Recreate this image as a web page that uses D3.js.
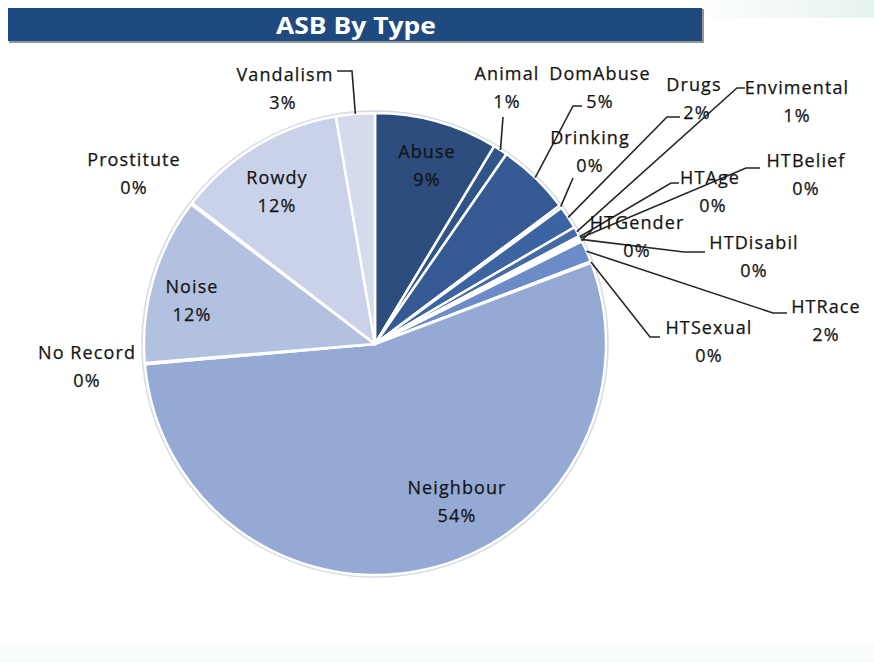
<!DOCTYPE html>
<html><head><meta charset="utf-8">
<script src="https://cdn.jsdelivr.net/npm/d3@7"></script>
<style>html,body{margin:0;padding:0;background:#fff;} svg{display:block}</style>
</head><body>
<svg id="c" width="874" height="662"></svg>
<script>
// ---- data ----
const categories = ["Abuse","Animal","DomAbuse","Drinking","Drugs","Envimental","HTAge","HTBelief","HTDisabil","HTGender","HTRace","HTSexual","Neighbour","No Record","Noise","Prostitute","Rowdy","Vandalism"];
const shares = [8.6,1.0,5.1,0.2,1.6,0.7,0.1,0.1,0.1,0.1,1.5,0.1,54.1,0.1,11.6,0.1,11.8,2.7];
const chartTitle = "ASB By Type";

// ---- label layout (positions only) ----
const labelLayout = {
  "Abuse":      {x:427, y:152},
  "Animal":     {x:507, y:74,  anchor:[503,117]},
  "DomAbuse":   {x:600, y:74,  line2x:600, anchor:[582,106], elbow:[573,106]},
  "Drinking":   {x:590, y:138, anchor:[573,178]},
  "Drugs":      {x:694, y:85,  line2x:697, anchor:[680,117], elbow:[667,117]},
  "Envimental": {x:797, y:88,  anchor:[745,88], elbow:[737,88]},
  "HTAge":      {x:710, y:178, line2x:713, anchor:[679,183], elbow:[671,183]},
  "HTBelief":   {x:806, y:161, anchor:[760,168], elbow:[746,168]},
  "HTDisabil":  {x:754, y:243, anchor:[705,252], elbow:[684,252]},
  "HTGender":   {x:637, y:223, anchor:[592,230]},
  "HTRace":     {x:826, y:307, anchor:[787,313], elbow:[773,313]},
  "HTSexual":   {x:709, y:328, anchor:[660,337], elbow:[650,337]},
  "Neighbour":  {x:457, y:488},
  "No Record":  {x:87,  y:353},
  "Noise":      {x:192, y:287},
  "Prostitute": {x:134, y:160},
  "Rowdy":      {x:277, y:178},
  "Vandalism":  {x:285, y:75, line2x:283, anchor:[337,71], elbow:[352,71]}
};

const W = 874, H = 662;
const cx = 375, cy = 344, R = 231;
const svg = d3.select("#c");
const defs = svg.append("defs");

// faint background tints
const g1 = defs.append("linearGradient").attr("id","topTint").attr("x1","0").attr("x2","1");
g1.append("stop").attr("offset","0").attr("stop-color","#ffffff");
g1.append("stop").attr("offset","1").attr("stop-color","#e6f2f0");
svg.append("rect").attr("x",690).attr("y",0).attr("width",184).attr("height",18).attr("fill","url(#topTint)");
const g2 = defs.append("linearGradient").attr("id","botTint").attr("x1","0").attr("x2","0").attr("y1","0").attr("y2","1");
g2.append("stop").attr("offset","0").attr("stop-color","#ffffff");
g2.append("stop").attr("offset","1").attr("stop-color","#f3f9f9");
svg.append("rect").attr("x",0).attr("y",640).attr("width",W).attr("height",22).attr("fill","url(#botTint)");

// title bar
svg.append("rect").attr("x",9).attr("y",9).attr("width",695).attr("height",34).attr("fill","#3b3f46").attr("opacity",0.55);
svg.append("rect").attr("x",8).attr("y",8).attr("width",694).attr("height",33).attr("fill","#1f4a80");
svg.append("text").attr("x",356).attr("y",34).attr("text-anchor","middle")
  .attr("font-family","'Open Sans', Lato, sans-serif").attr("font-weight","bold").attr("font-size",24)
  .attr("fill","#ffffff").attr("textLength",160).attr("lengthAdjust","spacingAndGlyphs").text(chartTitle);

// data
const data = categories.map((c,i)=>({name:c, value:shares[i], idx:i}));
const total = d3.sum(shares);
const color = d3.scaleLinear()
  .domain([0,2,4,10,12,14,16,17])
  .range(["#2c4d7d","#355a93","#3c64a2","#6b8cc6","#94a9d4","#b3c1e1","#c9d2e8","#d4dbec"])
  .interpolate(d3.interpolateRgb);

const pie = d3.pie().sort(null).value(d=>d.value);
const arcs = pie(data);
const arc = d3.arc().innerRadius(0).outerRadius(R);

const g = svg.append("g").attr("transform",`translate(${cx},${cy})`);
// outer rim
g.append("circle").attr("r",R+1.5).attr("fill","none").attr("stroke","#d6dbe3").attr("stroke-width",2.5);
g.selectAll("path.slice").data(arcs).enter().append("path")
  .attr("class","slice").attr("d",arc)
  .attr("fill",d=>color(d.data.idx))
  .attr("stroke","#ffffff").attr("stroke-width",2.5).attr("stroke-linejoin","round");

// leader lines
const edgePoint = d => {
  const a = (d.startAngle + d.endAngle)/2;
  return [cx + Math.sin(a)*R, cy - Math.cos(a)*R];
};
arcs.forEach(d=>{
  const L = labelLayout[d.data.name];
  if (!L || !L.anchor) return;
  const p = edgePoint(d);
  const pts = [p];
  if (L.elbow) pts.push(L.elbow);
  pts.push(L.anchor);
  svg.append("path").attr("d", d3.line()(pts))
    .attr("fill","none").attr("stroke","#262626").attr("stroke-width",1.6);
});

// labels
const fmt = v => Math.round(v/total*100) + "%";
arcs.forEach(d=>{
  const L = labelLayout[d.data.name];
  const t = svg.append("text")
    .attr("font-family","'Open Sans', Lato, sans-serif").attr("font-size",18)
    .attr("letter-spacing","1.1px").attr("fill","#141414")
    .attr("stroke","#141414").attr("stroke-width",0.25)
    .attr("text-anchor","middle");
  t.append("tspan").attr("x",L.x).attr("y",L.y+6).text(d.data.name);
  t.append("tspan").attr("x",L.line2x || L.x).attr("y",L.y+34).text(fmt(d.data.value));
});
</script>
</body></html>
